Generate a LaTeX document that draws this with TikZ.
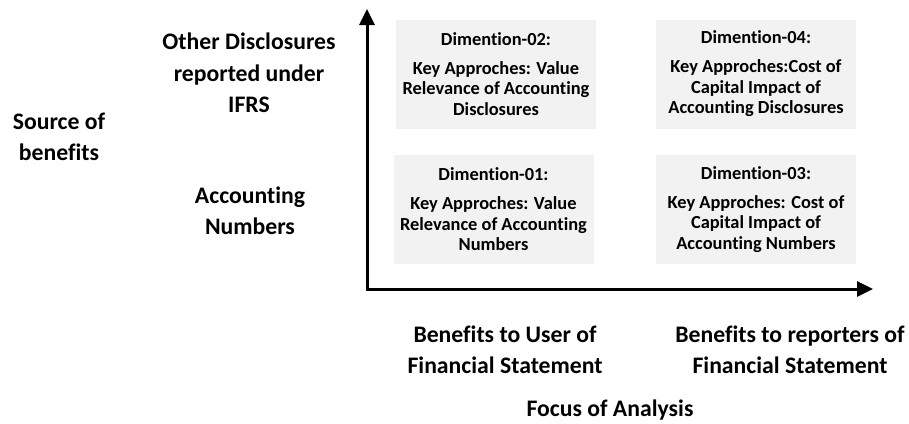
\documentclass[tikz,border=0pt]{standalone}
\usepackage{fontspec}
\setmainfont{Carlito}[Ligatures={NoCommon}]
\usetikzlibrary{arrows.meta}
\definecolor{boxgray}{HTML}{F2F2F2}
\tikzset{
  dimbox/.style={fill=boxgray, draw=none, minimum width=200pt, minimum height=109pt, inner sep=0pt, align=center, font=\fontsize{18.4}{20.5}\selectfont\bfseries},
  axislabel/.style={inner sep=0pt, align=center, font=\fontsize{23.7}{31.5}\selectfont\bfseries},
  axisline/.style={line width=3pt, line join=miter, {Triangle[length=16pt,width=15pt]}-{Triangle[length=16pt,width=15pt]}}
}
\begin{document}
\begin{tikzpicture}[x=1pt,y=-1pt]
\useasboundingbox[fill=white] (0,0) rectangle (909,423);
% boxes
\node[dimbox] (d2) at (496,74) {Dimention-02:\\[8.5pt]Key Approches: Value\\Relevance of Accounting\\Disclosures};
\node[dimbox] (d4) at (756,74) {Dimention-04:\\[8.5pt]Key Approches:Cost of\\Capital Impact of\\Accounting Disclosures};
\node[dimbox] (d1) at (493.5,209.5) {Dimention-01:\\[8.5pt]Key Approches: Value\\Relevance of Accounting\\Numbers};
\node[dimbox] (d3) at (756,209.5) {Dimention-03:\\[8.5pt]Key Approches: Cost of\\Capital Impact of\\Accounting Numbers};
% axes
\coordinate (o) at (367,289);
\coordinate (ytip) at (367,9);
\coordinate (xtip) at (873,289);
\draw[axisline] (ytip) -- (o) -- (xtip);
% labels
\node[axislabel] (src) at (59,137) {Source of\\benefits};
\node[axislabel] (oth) at (249,73) {Other Disclosures\\reported under\\IFRS};
\node[axislabel] (acc) at (250,211) {Accounting\\Numbers};
\node[axislabel] (usr) at (505,350) {Benefits to User of\\Financial Statement};
\node[axislabel] (rep) at (790,350) {Benefits to reporters of\\Financial Statement};
\node[axislabel] (foc) at (610,410) {Focus of Analysis};
\end{tikzpicture}
\end{document}
